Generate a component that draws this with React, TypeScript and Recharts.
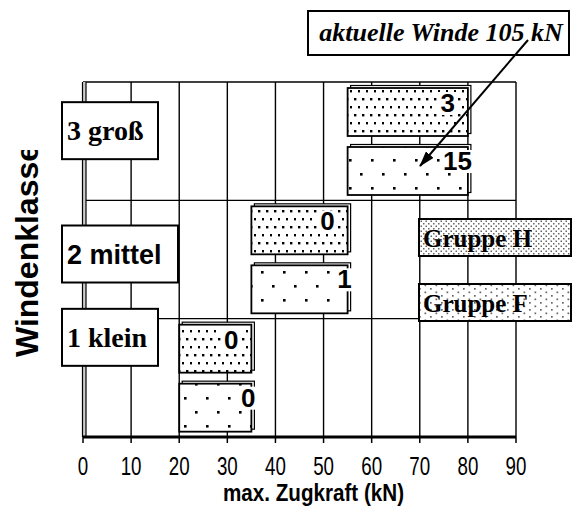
import { BarChart, Bar, XAxis, YAxis, CartesianGrid, ReferenceLine, LabelList } from "recharts";

// Windenklassen von oben nach unten
const classes = ["3 groß", "2 mittel", "1 klein"];
// Zugkraftbereich (kN) je Klasse, Gruppe H und Gruppe F
const hFrom = [55, 35, 20];
const hTo = [80, 55, 35];
const fFrom = [55, 35, 20];
const fTo = [80, 55, 35];
// Anzahl Winden je Klasse
const hCount = [3, 0, 0];
const fCount = [15, 1, 0];
const xTicks = [0, 10, 20, 30, 40, 50, 60, 70, 80, 90];

const data = classes.map((k, i) => ({
  klasse: k,
  H: [hFrom[i], hTo[i]],
  F: [fFrom[i], fTo[i]],
  hN: hCount[i],
  fN: fCount[i],
}));

const SANS = "'Liberation Sans', Arial, sans-serif";
const SERIF = "'Liberation Serif', 'Times New Roman', serif";

// Kästchen für die Klassenbeschriftung
const boxStyle: Record<string, { dy: number; w: number; font: string; size: number }> = {
  "3 groß": { dy: -39, w: 96, font: SERIF, size: 28 },
  "2 mittel": { dy: -34, w: 116, font: SANS, size: 27 },
  "1 klein": { dy: -69, w: 96, font: SERIF, size: 28 },
};

const ClassTick = (props: any) => {
  const { y, payload } = props;
  const s = boxStyle[payload.value];
  if (!s) return null;
  const top = y + s.dy;
  return (
    <g>
      <rect x={62} y={top} width={s.w} height={57} fill="#fff" stroke="#000" strokeWidth={2} />
      <text x={67} y={top + 38} fontFamily={s.font} fontSize={s.size} fontWeight="bold" fill="#000">
        {payload.value}
      </text>
    </g>
  );
};

// schmale Schrift wie Arial Narrow
const XTick = (props: any) => {
  const { x, y, payload } = props;
  return (
    <text
      transform={`translate(${x},${y}) scale(0.75,1)`}
      dy="0.71em"
      textAnchor="middle"
      fontFamily={SANS}
      fontSize={25}
      fill="#000"
    >
      {payload.value}
    </text>
  );
};

const XTitle = (props: any) => {
  const vb = props.viewBox || {};
  const cx = vb.x + vb.width / 2 + 14;
  const by = vb.y + vb.height;
  return (
    <text
      transform={`translate(${cx},${by}) scale(0.86,1)`}
      textAnchor="middle"
      fontFamily={SANS}
      fontSize={24}
      fontWeight="bold"
      fill="#000"
    >
      max. Zugkraft (kN)
    </text>
  );
};

const barShape = (pattern: string) => (props: any) => {
  const { x, y, width, height } = props;
  return (
    <g>
      <rect x={x + 3} y={y - 2.5} width={width} height={height} fill="#fff" stroke="#000" strokeWidth={1.2} />
      <rect x={x} y={y} width={width} height={height} fill={`url(#${pattern})`} stroke="#000" strokeWidth={1.8} />
    </g>
  );
};

const countLabel = (shift: number, top: number) => (props: any) => {
  const { x, y, width, value } = props;
  const right = x + width + shift;
  const w = String(value).length * 15;
  return (
    <g>
      <rect x={right - w - 2} y={y + top - 2} width={w + 4} height={23} fill="#fff" />
      <text x={right} y={y + top + 18} textAnchor="end" fontFamily={SANS} fontSize={26} fontWeight="bold" fill="#000">
        {value}
      </text>
    </g>
  );
};

const axisDouble = (props: any) => {
  const { x1, y1, y2 } = props;
  const top = Math.min(y1, y2);
  const bottom = Math.max(y1, y2);
  return (
    <g>
      <rect x={x1 - 0.5} y={top} width={3.5} height={bottom - top} fill="#ccc" />
      <line x1={x1 - 0.5} x2={x1 - 0.5} y1={top} y2={bottom} stroke="#000" strokeWidth={1.2} />
      <line x1={x1 + 3} x2={x1 + 3} y1={top} y2={bottom} stroke="#000" strokeWidth={1.2} />
    </g>
  );
};

// Klassengrenzen statt Kategorie-Mitten
const classBounds = (args: any) => {
  const off = args && args.offset;
  if (!off) return [];
  return classes.map((_, i) => off.top + (off.height * i) / classes.length);
};

export default function App() {
  return (
    <div style={{ position: "absolute", left: 0, top: 0, width: 576, height: 510, background: "#fff", fontFamily: SANS }}>
      <BarChart
        width={576}
        height={510}
        data={data}
        layout="vertical"
        margin={{ top: 82, right: 60, bottom: 9, left: 82 }}
        barCategoryGap={6}
        barGap={11}
      >
        <defs>
          <pattern id="ph" width={8} height={16} patternUnits="userSpaceOnUse">
            <rect width={8} height={16} fill="#fff" />
            <rect x={2} y={2} width={2.4} height={2.4} fill="#000" />
            <rect x={6} y={10} width={2.4} height={2.4} fill="#000" />
          </pattern>
          <pattern id="pf" width={22} height={28} patternUnits="userSpaceOnUse">
            <rect width={22} height={28} fill="#fff" />
            <rect x={8} y={5} width={2.6} height={2.6} fill="#000" />
            <rect x={19} y={19} width={2.6} height={2.6} fill="#000" />
          </pattern>
        </defs>
        <CartesianGrid
          stroke="#000"
          strokeWidth={1.4}
          yAxisId="cat"
          horizontalCoordinatesGenerator={classBounds}
        />
        <ReferenceLine yAxisId="cat" x={0} shape={axisDouble} />
        <XAxis
          type="number"
          domain={[0, 90]}
          ticks={xTicks}
          interval={0}
          tickSize={6}
          tickMargin={14}
          axisLine={{ stroke: "#000", strokeWidth: 3 }}
          tickLine={{ stroke: "#000", strokeWidth: 1.5 }}
          tick={XTick}
          height={64}
          label={<XTitle />}
        />
        <YAxis
          yAxisId="cat"
          type="category"
          dataKey="klasse"
          width={1}
          axisLine={false}
          tickLine={false}
          tick={ClassTick}
          interval={0}
        />
        <Bar yAxisId="cat" dataKey="H" isAnimationActive={false} shape={barShape("ph")}>
          <LabelList dataKey="hN" content={countLabel(-13, 6)} />
        </Bar>
        <Bar yAxisId="cat" dataKey="F" isAnimationActive={false} shape={barShape("pf")}>
          <LabelList dataKey="fN" content={countLabel(4, 5)} />
        </Bar>
      </BarChart>

      <svg width={576} height={510} style={{ position: "absolute", left: 0, top: 0, pointerEvents: "none" }}>
        <defs>
          <clipPath id="ytitle-clip">
            <rect x={0} y={150} width={60} height={260} />
          </clipPath>
          <marker id="arrowhead" markerWidth={16} markerHeight={10} refX={15} refY={5} orient="auto" markerUnits="userSpaceOnUse">
            <polygon points="0,0 16,5 0,10" fill="#000" />
          </marker>
          <pattern id="lh" width={5} height={5} patternUnits="userSpaceOnUse">
            <rect x={0.5} y={0.5} width={1.5} height={1.5} fill="#666" />
            <rect x={3} y={3} width={1.5} height={1.5} fill="#666" />
          </pattern>
          <pattern id="lf" width={11} height={7} patternUnits="userSpaceOnUse">
            <rect x={1} y={1} width={1.7} height={1.7} fill="#666" />
            <rect x={6.5} y={4.5} width={1.7} height={1.7} fill="#666" />
          </pattern>
        </defs>
        <g clipPath="url(#ytitle-clip)">
          <text
            transform="translate(38,357) rotate(-90)"
            fontFamily={SANS}
            fontSize={32}
            fontWeight="bold"
            textLength={213}
            lengthAdjust="spacingAndGlyphs"
            fill="#000"
          >
            Windenklasse
          </text>
        </g>

        {/* Legende */}
        <rect x={419} y={219} width={152} height={37} fill="#fff" />
        <rect x={419} y={219} width={152} height={37} fill="url(#lh)" stroke="#000" strokeWidth={2} />
        <text x={423} y={247} fontFamily={SERIF} fontSize={25} fontWeight="bold" fill="#000">
          Gruppe H
        </text>
        <rect x={419} y={284} width={152} height={37} fill="#fff" />
        <rect x={419} y={284} width={152} height={37} fill="url(#lf)" stroke="#000" strokeWidth={2} />
        <text x={423} y={312} fontFamily={SERIF} fontSize={25} fontWeight="bold" fill="#000">
          Gruppe F
        </text>

        {/* Hinweis auf die aktuelle Winde */}
        <rect x={308} y={11} width={261} height={44} fill="#fff" stroke="#000" strokeWidth={2} />
        <text
          x={441}
          y={41}
          textAnchor="middle"
          fontFamily={SERIF}
          fontSize={26}
          fontStyle="italic"
          fontWeight="bold"
          fill="#000"
        >
          aktuelle Winde 105 kN
        </text>
        <line x1={528} y1={40} x2={420} y2={166} stroke="#000" strokeWidth={2} markerEnd="url(#arrowhead)" />
      </svg>
    </div>
  );
}
